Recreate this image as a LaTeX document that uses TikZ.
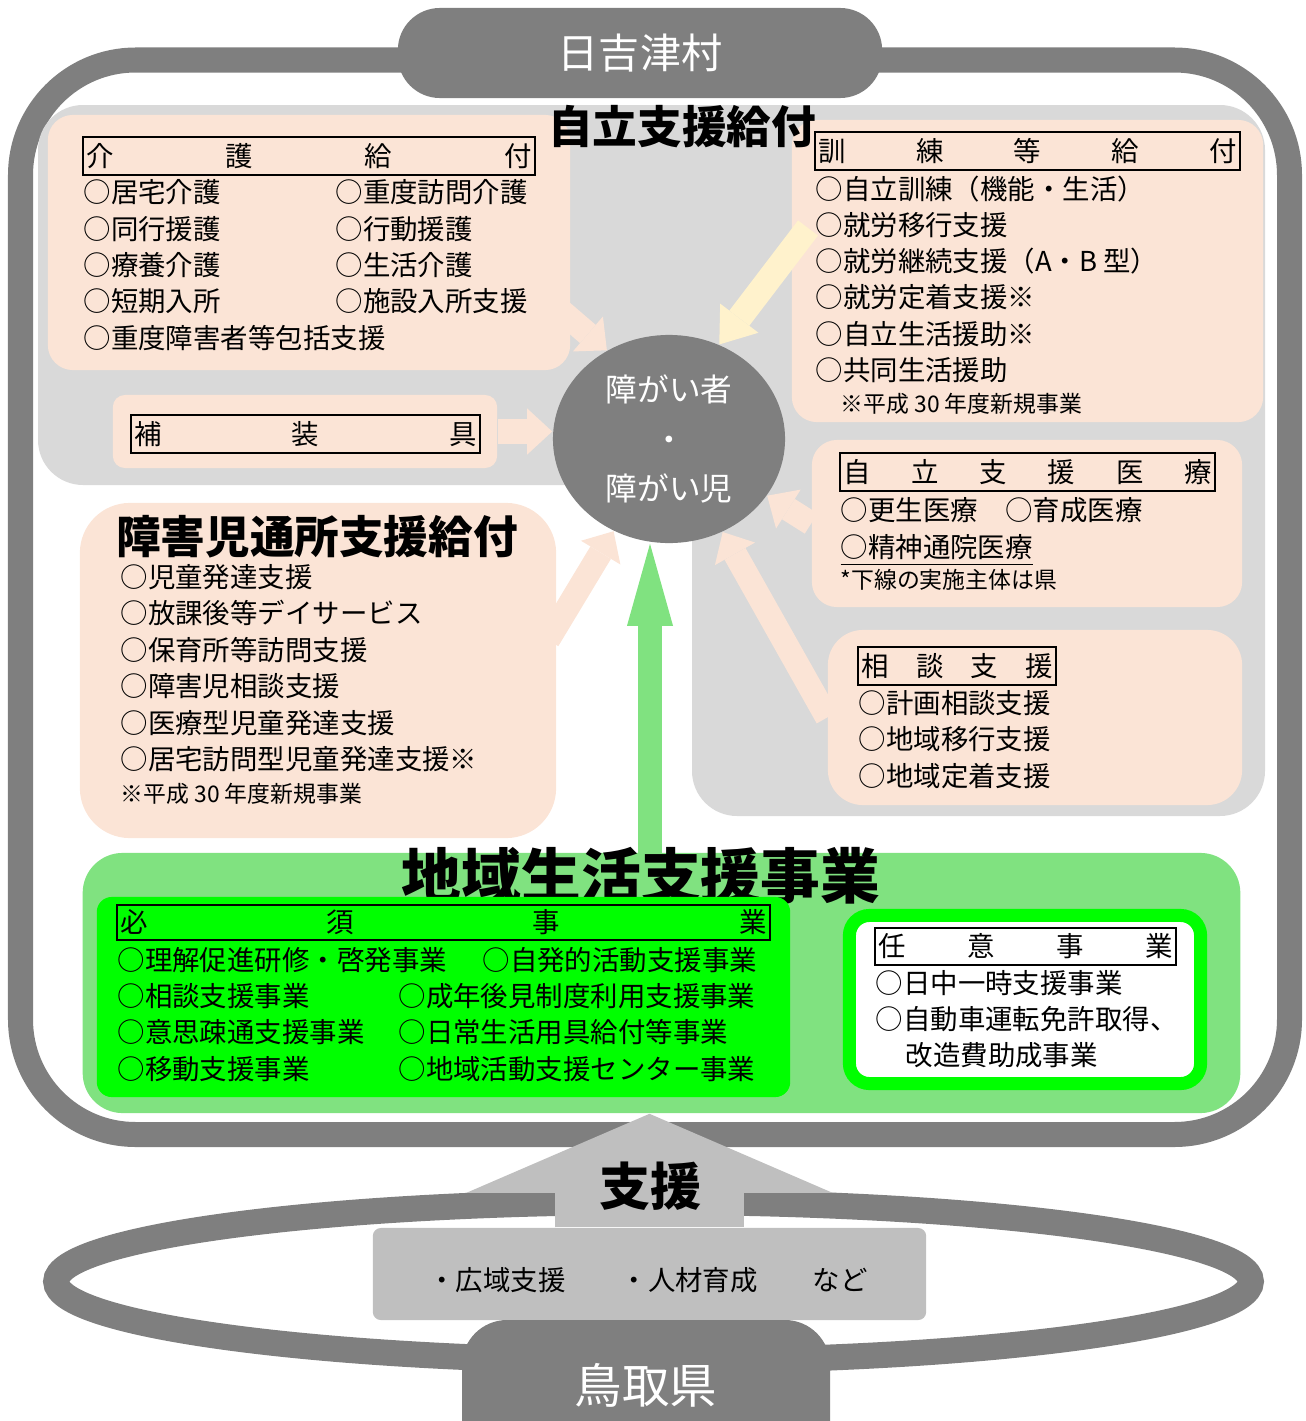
\documentclass[tikz,border=0pt]{standalone}
\usepackage{fontspec}
\setmainfont{Noto Sans CJK JP}
\usepackage{tikz}
\usetikzlibrary{arrows.meta,shapes.geometric}

\definecolor{framegray}{RGB}{127,127,127}
\definecolor{palegray}{RGB}{217,217,217}
\definecolor{peach}{RGB}{251,228,214}
\definecolor{cream}{RGB}{255,242,204}
\definecolor{vividgreen}{RGB}{0,255,0}
\definecolor{softgreen}{RGB}{128,226,128}
\definecolor{supportgray}{RGB}{191,191,191}

\pgfdeclarelayer{background}
\pgfdeclarelayer{arrowlayer}
\pgfsetlayers{background,arrowlayer,main}

\newcommand\spreadline[1]{\hbox to\hsize{#1}}

\tikzset{
  entry/.style={anchor=west, inner sep=0pt, text height=6.6pt, text depth=1.3pt,
    font=\fontsize{7.8pt}{9pt}\selectfont},
  smallnote/.style={entry, text height=5.5pt, text depth=1.1pt,
    font=\fontsize{6.5pt}{8pt}\selectfont},
  hdr/.style={draw, line width=0.6pt, inner xsep=1pt, inner ysep=0pt,
    minimum height=0.38cm, font=\fontsize{7.8pt}{9pt}\selectfont},
  pbox/.style={fill=peach, rounded corners=0.25cm, inner sep=0pt},
  ttl/.style={inner sep=0pt, font=\fontsize{12.7pt}{14pt}\selectfont\bfseries},
  tab/.style={fill=framegray, text=white, inner sep=0pt},
  person/.style={ellipse, fill=framegray, text=white, inner sep=0pt,
    minimum width=2.32cm, minimum height=2.08cm, align=center,
    font=\fontsize{9pt}{14.2pt}\selectfont},
  parrow/.style={draw=peach, line width=0.24cm,
    -{Triangle[length=0.25cm, width=0.46cm, line width=0pt]}},
  yarrow/.style={draw=cream, line width=0.25cm,
    -{Triangle[length=0.33cm, width=0.48cm, line width=0pt]}},
  garrow/.style={draw=softgreen, line width=0.24cm,
    -{Triangle[length=0.82cm, width=0.46cm, line width=0pt]}},
  sarrow/.style={draw=supportgray, line width=1.88cm,
    -{Triangle[length=0.79cm, width=3.66cm, line width=0pt]}}
}

\begin{document}
\begin{tikzpicture}[x=0.01cm, y=-0.01cm]
  \useasboundingbox (0,0) rectangle (1306,1421);

  \begin{pgfonlayer}{background}
    \draw[framegray, line width=0.25cm, rounded corners=1.15cm] (20.5,60) rectangle (1289.5,1134.5);
    \fill[palegray, rounded corners=0.45cm] (38,105) -- (1265,105) -- (1265,816) -- (692,816)
      -- (692,485) -- (38,485) -- cycle;
    \draw[framegray, line width=0.26cm] (653.5,1281.5) ellipse [x radius=5.97cm, y radius=0.795cm];
  \end{pgfonlayer}

  \node[tab, minimum width=4.84cm, minimum height=0.9cm, rounded corners=0.42cm,
    font=\fontsize{11.7pt}{13pt}\selectfont] (hiezu) at (640,53) {日吉津村};

  % benefit boxes
  \node[pbox, minimum width=5.22cm, minimum height=2.55cm] (kaigo) at (309,242.5) {};
  \node[pbox, minimum width=3.84cm, minimum height=0.73cm, rounded corners=0.12cm] (hosou) at (305,431.5) {};
  \node[pbox, minimum width=4.71cm, minimum height=3.02cm] (kunren) at (1027.5,271) {};
  \node[pbox, minimum width=4.30cm, minimum height=1.67cm] (iryo) at (1027,523.5) {};
  \node[pbox, minimum width=4.14cm, minimum height=1.75cm, rounded corners=0.35cm] (soudan) at (1035,717.5) {};
  \node[pbox, minimum width=4.76cm, minimum height=3.35cm, rounded corners=0.5cm] (jidou) at (318,670.5) {};

  \node[person] (person) at (669,439) {障がい者\\・\\障がい児};

  \coordinate (kaigoTail) at (560,310);
  \coordinate (jidouTail) at (548,640);
  \coordinate (kunrenTail) at (808,228);
  \coordinate (greenTail) at (650,870);

  \draw[yarrow] (kunrenTail) -- (person.62);

  \node[ttl] (jiritsuT) at (682,127) {自立支援給付};

  % headers
  \node[hdr, text width=4.45cm] (kaigoH) at (309,156) {\spreadline{介\hfill 護\hfill 給\hfill 付}};
  \node[hdr, text width=3.42cm] (hosouH) at (305.5,434) {\spreadline{補\hfill 装\hfill 具}};
  \node[hdr, text width=4.18cm] (kunrenH) at (1027.5,151) {\spreadline{訓\hfill 練\hfill 等\hfill 給\hfill 付}};
  \node[hdr, text width=3.68cm] (iryoH) at (1027.5,472) {\spreadline{自\hfill 立\hfill 支\hfill 援\hfill 医\hfill 療}};
  \node[hdr, text width=1.91cm] (soudanH) at (957,666) {\spreadline{相\hfill 談\hfill 支\hfill 援}};

  \begin{scope}[every node/.style={entry}]
    \node (k1) at (83,193) {○居宅介護};
    \node (k2) at (83,230) {○同行援護};
    \node (k3) at (83,266) {○療養介護};
    \node (k4) at (83,302) {○短期入所};
    \node (k5) at (83,339) {○重度障害者等包括支援};
    \node (k6) at (335,193) {○重度訪問介護};
    \node (k7) at (335,230) {○行動援護};
    \node (k8) at (335,266) {○生活介護};
    \node (k9) at (335,302) {○施設入所支援};

    \node (t1) at (815,190) {○自立訓練（機能・生活）};
    \node (t2) at (815,226) {○就労移行支援};
    \node (t3) at (815,262) {○就労継続支援（A・B 型）};
    \node (t4) at (815,298) {○就労定着支援※};
    \node (t5) at (815,335) {○自立生活援助※};
    \node (t6) at (815,371) {○共同生活援助};

    \node (m1) at (840,511) {○更生医療　○育成医療};
    \node (m2) at (840,548) {\underline{○精神通院医療}};

    \node (s1) at (858,704) {○計画相談支援};
    \node (s2) at (858,740) {○地域移行支援};
    \node (s3) at (858,777) {○地域定着支援};

    \node (j1) at (120,578) {○児童発達支援};
    \node (j2) at (120,614) {○放課後等デイサービス};
    \node (j3) at (120,651) {○保育所等訪問支援};
    \node (j4) at (120,687) {○障害児相談支援};
    \node (j5) at (120,724) {○医療型児童発達支援};
    \node (j6) at (120,760) {○居宅訪問型児童発達支援※};
  \end{scope}
  \node[smallnote] (tNote) at (840,405) {※平成 30 年度新規事業};
  \node[smallnote] (mNote) at (840,581) {*下線の実施主体は県};
  \node[smallnote] (jNote) at (120,795) {※平成 30 年度新規事業};
  \node[ttl] (jidouT) at (317,537) {障害児通所支援給付};

  % community life support
  \node[fill=softgreen, rounded corners=0.4cm, minimum width=11.57cm, minimum height=2.60cm,
    inner sep=0pt] (chiiki) at (661.5,983) {};
  \node[ttl, font=\fontsize{17pt}{19pt}\selectfont\bfseries] (chiikiT) at (641,876) {地域生活支援事業};
  \node[fill=vividgreen, rounded corners=0.15cm, minimum width=6.93cm, minimum height=2.00cm,
    inner sep=0pt] (hissu) at (443.5,997) {};
  \node[draw=vividgreen, line width=0.13cm, fill=white, rounded corners=0.2cm, minimum width=3.51cm,
    minimum height=1.68cm, inner sep=0pt] (nini) at (1025,999.5) {};
  \node[hdr, text width=6.46cm, minimum height=0.35cm] (hissuH) at (443.5,922.5) {\spreadline{必\hfill 須\hfill 事\hfill 業}};
  \node[hdr, text width=2.94cm, minimum height=0.37cm] (niniH) at (1025.5,946.5) {\spreadline{任\hfill 意\hfill 事\hfill 業}};

  \begin{scope}[every node/.style={entry}]
    \node (h1) at (117,961) {○理解促進研修・啓発事業};
    \node (h2) at (117,997) {○相談支援事業};
    \node (h3) at (117,1033) {○意思疎通支援事業};
    \node (h4) at (117,1070) {○移動支援事業};
    \node (h5) at (482,961) {○自発的活動支援事業};
    \node (h6) at (398,997) {○成年後見制度利用支援事業};
    \node (h7) at (398,1033) {○日常生活用具給付等事業};
    \node (h8) at (398,1070) {○地域活動支援センター事業};

    \node (n1) at (875,984) {○日中一時支援事業};
    \node (n2) at (875,1020) {○自動車運転免許取得、};
    \node (n3) at (905,1056) {改造費助成事業};
  \end{scope}

  % prefecture support
  \node[fill=supportgray, rounded corners=0.08cm, minimum width=5.53cm, minimum height=0.92cm,
    inner sep=0pt] (sbox) at (649.5,1274) {};
  \draw[sarrow] (sbox.north) -- (sbox.north |- chiiki.south);
  \node[ttl, font=\fontsize{14.5pt}{16pt}\selectfont\bfseries] (shien) at (650,1186) {支援};
  \node[entry, anchor=center] (sboxT) at (648,1281) {・広域支援　　・人材育成　　など};

  \fill[framegray, rounded corners=0.45cm] (462,1470) rectangle (830,1320);
  \node[tab, fill=none, font=\fontsize{13.5pt}{15pt}\selectfont] (tottori) at (646,1385) {鳥取県};

  \begin{pgfonlayer}{arrowlayer}
    \draw[parrow] (kaigoTail) -- (person.125);
    \draw[parrow] (hosou.east) -- (hosou.east -| person.west);
    \draw[parrow] (jidouTail) -- (person.239);
    \draw[parrow] (iryo.west) -- (person.330);
    \draw[parrow] (soudan.west) -- (person.300);
    \draw[garrow] (greenTail) -- (greenTail |- person.south);
  \end{pgfonlayer}
\end{tikzpicture}
\end{document}
